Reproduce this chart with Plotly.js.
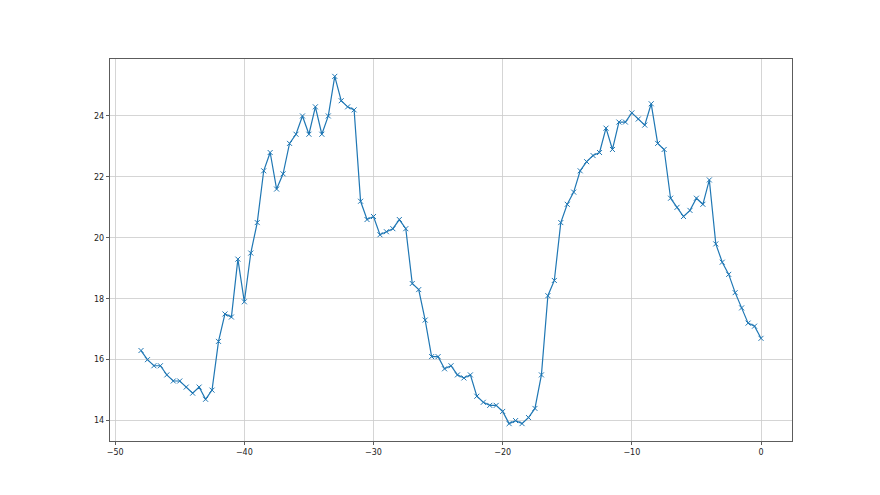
<!DOCTYPE html>
<html>
<head>
<meta charset="utf-8">
<script src="https://cdn.plot.ly/plotly-3.0.1.min.js"></script>
<style>html,body{margin:0;padding:0;background:#fff;}#chart{width:880px;height:495px;}</style>
</head>
<body>
<div id="chart"></div>
<script>
const xStart = -48;
const xStep = 0.5;
const values = [
  16.3, 16.0, 15.8, 15.8, 15.5, 15.3, 15.3, 15.1, 14.9, 15.1,
  14.7, 15.0, 16.6, 17.5, 17.4, 19.3, 17.9, 19.5, 20.5, 22.2,
  22.8, 21.6, 22.1, 23.1, 23.4, 24.0, 23.4, 24.3, 23.4, 24.0,
  25.3, 24.5, 24.3, 24.2, 21.2, 20.6, 20.7, 20.1, 20.2, 20.3,
  20.6, 20.3, 18.5, 18.3, 17.3, 16.1, 16.1, 15.7, 15.8, 15.5,
  15.4, 15.5, 14.8, 14.6, 14.5, 14.5, 14.3, 13.9, 14.0, 13.9,
  14.1, 14.4, 15.5, 18.1, 18.6, 20.5, 21.1, 21.5, 22.2, 22.5,
  22.7, 22.8, 23.6, 22.9, 23.8, 23.8, 24.1, 23.9, 23.7, 24.4,
  23.1, 22.9, 21.3, 21.0, 20.7, 20.9, 21.3, 21.1, 21.9, 19.8,
  19.2, 18.8, 18.2, 17.7, 17.2, 17.1, 16.7
];
const xs = values.map((v, i) => xStart + i * xStep);
const xTicks = [-50, -40, -30, -20, -10, 0];
const yTicks = [14, 16, 18, 20, 22, 24];

const trace = {
  x: xs, y: values, type: 'scatter', mode: 'lines+markers',
  line: {color: '#1f77b4', width: 1.2},
  marker: {symbol: 'x-thin', size: 5, color: '#1f77b4', line: {color: '#1f77b4', width: 1}}
};
const axisCommon = {
  showline: true, linecolor: '#333', linewidth: 0.8, mirror: true,
  ticks: 'outside', ticklen: 3.5, tickwidth: 0.8, tickcolor: '#333',
  showgrid: true, gridcolor: '#cbcbcb', gridwidth: 0.8, zeroline: false,
  tickfont: {family: 'DejaVu Sans', size: 8, color: '#222'}
};
const layout = {
  width: 880, height: 495,
  margin: {l: 110, r: 88, t: 59, b: 54},
  paper_bgcolor: '#fff', plot_bgcolor: '#fff',
  showlegend: false,
  xaxis: Object.assign({}, axisCommon, {range: [-50.4, 2.4], tickvals: xTicks, ticktext: xTicks.map(t => t < 0 ? '\u2212' + Math.abs(t) : String(t))}),
  yaxis: Object.assign({}, axisCommon, {range: [13.33, 25.87], tickvals: yTicks, ticktext: yTicks.map(String)})
};
Plotly.newPlot('chart', [trace], layout, {displayModeBar: false, staticPlot: true});
</script>
</body>
</html>
